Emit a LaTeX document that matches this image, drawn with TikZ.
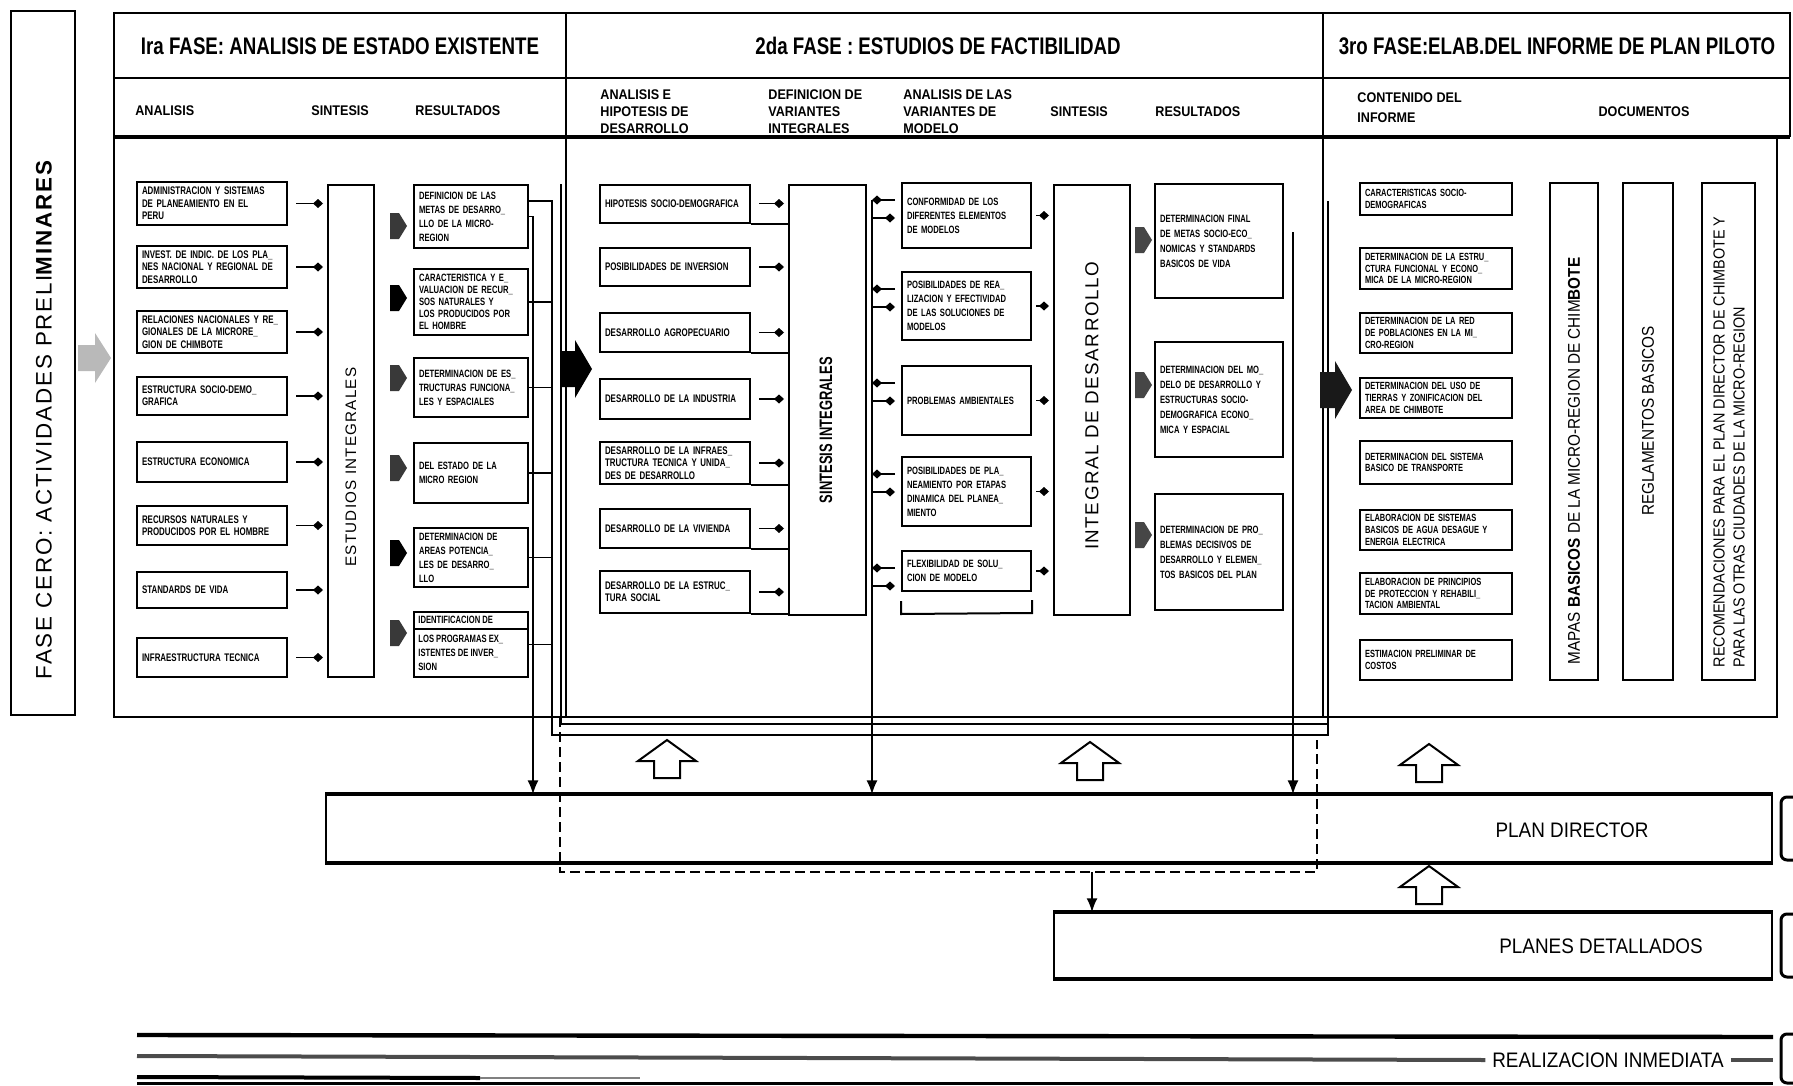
\documentclass[tikz,border=0pt]{standalone}
\usepackage{fontspec}
\setmainfont{Liberation Sans}
\newfontfamily\cond{Liberation Sans}[FakeStretch=0.78]
\newfontfamily\bxf{Liberation Sans}[FakeStretch=0.72]
\newfontfamily\semi{Liberation Sans}[FakeStretch=0.9]
\newfontfamily\spc{Liberation Sans}[LetterSpace=8]
\usetikzlibrary{arrows.meta,calc}
\begin{document}
\begin{tikzpicture}[x=0.5pt,y=-0.5pt,
  frame/.style={line width=1.3pt},
  bx/.style={draw, line width=1pt, inner sep=2.5pt, align=left, font=\bxf\bfseries\fontsize{5.5}{6.2}\selectfont},
  bxr/.style={bx, font=\bxf\bfseries\fontsize{5.3}{7}\selectfont},
  bxp/.style={bx, font=\bxf\bfseries\fontsize{5.2}{5.8}\selectfont},
  tall/.style={draw, line width=1pt, inner sep=0pt},
  rl/.style={rotate=90, font=\spc\fontsize{7.6}{10}\selectfont},
  hdr/.style={font=\cond\bfseries\fontsize{12}{13}\selectfont},
  sub/.style={font=\semi\bfseries\fontsize{7}{8.5}\selectfont, align=left, anchor=west, inner sep=0pt},
  dia/.style={line width=0.9pt, -{Diamond[length=5pt,width=4.5pt]}},
  arr/.style={line width=0.8pt, -{Latex[length=7pt,width=5.5pt]}},
  bus/.style={line width=0.8pt},
  big/.style={font=\semi\fontsize{10.5}{12}\selectfont},
  pics/pent/.style={code={\fill[#1] (0,-13)--(9,-13)--(17,0)--(9,13)--(0,13)--cycle;}},
  pics/bigarrow/.style={code={\fill[#1] (0,-18)--(15,-18)--(15,-29)--(32,0)--(15,29)--(15,18)--(0,18)--cycle;}},
  pics/uparrow/.style={code={\draw[line width=1pt, fill=white] (-13,0)--(13,0)--(13,-17)--(29,-17)--(0,-38)--(-29,-17)--(-13,-17)--cycle;}}
]
\useasboundingbox (0,0) rectangle (1793,1086);

% ---------- FASE CERO ----------
\node (fc) [tall, minimum width=32pt, minimum height=352pt] at (43,363) {};
\node (fcl) [rl, font=\spc\fontsize{11.2}{12}\selectfont] at (44,420) {FASE CERO: ACTIVIDADES PRELI{\bfseries MINARES}};
\fill[gray!55] (78,345)--(95,345)--(95,333)--(111,358)--(95,383)--(95,371)--(78,371)--cycle;

% ---------- frame ----------
\draw[frame] (1777,137) -- (1777,717) -- (114,717) -- (114,13) -- (1790,13) -- (1790,137);
\draw[frame] (114,78) -- (1790,78);
\draw[line width=1.8pt] (114,137) -- (1790,137);
\draw[frame] (566,13) -- (566,717);
\draw[frame] (1323,13) -- (1323,717);

% headers
\node (h1) [hdr] at (340,46) {Ira FASE: ANALISIS DE ESTADO EXISTENTE};
\node (h2) [hdr] at (938,46) {2da FASE : ESTUDIOS DE FACTIBILIDAD};
\node (h3) [hdr] at (1557,46) {3ro FASE:ELAB.DEL INFORME DE PLAN PILOTO};

\node (s1) [sub] at (135,111) {ANALISIS};
\node (s2) [sub] at (311,111) {SINTESIS};
\node (s3) [sub] at (415,111) {RESULTADOS};
\node (s4) [sub] at (600,112) {ANALISIS E\\HIPOTESIS DE\\DESARROLLO};
\node (s5) [sub] at (768,112) {DEFINICION DE\\VARIANTES\\INTEGRALES};
\node (s6) [sub] at (903,112) {ANALISIS DE LAS\\VARIANTES DE\\MODELO};
\node (s7) [sub] at (1050,112) {SINTESIS};
\node (s8) [sub] at (1155,112) {RESULTADOS};
\node (s9) [sub, font=\semi\bfseries\fontsize{7}{10}\selectfont] at (1357,108) {CONTENIDO DEL\\INFORME};
\node (s10) [sub, anchor=center] at (1644,112) {DOCUMENTOS};

% ---------- phase 1 ----------
\node (a1) [bx, text width=70pt, minimum height=19.5pt] at (212,203.5) {ADMINISTRACION Y SISTEMAS\\DE PLANEAMIENTO EN EL\\PERU};
\node (a2) [bx, text width=70pt, minimum height=20pt] at (212,267) {INVEST. DE INDIC. DE LOS PLA\_\\NES NACIONAL Y REGIONAL DE\\DESARROLLO};
\node (a3) [bx, text width=70pt, minimum height=20pt] at (212,332) {RELACIONES NACIONALES Y RE\_\\GIONALES DE LA MICRORE\_\\GION DE CHIMBOTE};
\node (a4) [bx, text width=70pt, minimum height=19pt] at (212,396) {ESTRUCTURA SOCIO-DEMO\_\\GRAFICA};
\node (a5) [bx, text width=70pt, minimum height=20pt] at (212,462) {ESTRUCTURA ECONOMICA};
\node (a6) [bx, text width=70pt, minimum height=19.5pt] at (212,525.5) {RECURSOS NATURALES Y\\PRODUCIDOS POR EL HOMBRE};
\node (a7) [bx, text width=70pt, minimum height=18pt] at (212,590) {STANDARDS DE VIDA};
\node (a8) [bx, text width=70pt, minimum height=19.5pt] at (212,657.5) {INFRAESTRUCTURA TECNICA};

\node (ei) [tall, minimum width=23pt, minimum height=246pt] at (351,431) {};
\node (eil) [rl] at (351,467) {ESTUDIOS INTEGRALES};
\foreach \i in {1,...,8}{\draw[dia, shorten <=4pt, shorten >=2pt] (a\i.east) -- (a\i.east -| ei.west);}

\node (r1) [bxr, text width=52pt, minimum height=31.5pt] at (471,216.5) {DEFINICION DE LAS\\METAS DE DESARRO\_\\LLO DE LA MICRO-\\REGION};
\node (r2) [bxr, text width=52pt, minimum height=30pt, font=\bxf\bfseries\fontsize{5.3}{6}\selectfont] at (471,302) {CARACTERISTICA Y E\_\\VALUACION DE RECUR\_\\SOS NATURALES Y\\LOS PRODUCIDOS POR\\EL HOMBRE};
\node (r3) [bxr, text width=52pt, minimum height=29.5pt] at (471,387.5) {DETERMINACION DE ES\_\\TRUCTURAS FUNCIONA\_\\LES Y ESPACIALES};
\node (r4) [bxr, text width=52pt, minimum height=30pt] at (471,473) {DEL ESTADO DE LA\\MICRO REGION};
\node (r5) [bxr, text width=52pt, minimum height=29.5pt] at (471,557.5) {DETERMINACION DE\\AREAS POTENCIA\_\\LES DE DESARRO\_\\LLO};
\node (r6) [tall, minimum width=57pt, minimum height=32.5pt] at (471,644.5) {};
\node (r6t) [anchor=north west, inner sep=2.5pt, align=left, font=\bxf\bfseries\fontsize{5.3}{7}\selectfont] at (r6.north west) {IDENTIFICACION DE\\[2.5pt]LOS PROGRAMAS EX\_\\ISTENTES DE INVER\_\\SION};
\draw[line width=0.8pt] (r6.west |- 0,629) -- (r6.east |- 0,629);

\pic at (390,226) {pent=gray!45!black};
\pic at (390,298) {pent=black};
\pic at (390,378) {pent=gray!45!black};
\pic at (390,468) {pent=gray!45!black};
\pic at (390,553) {pent=black};
\pic at (390,633) {pent=gray!45!black};

% phase 1 buses
\coordinate (ba) at (533,0);
\coordinate (bb) at (552,0);
\coordinate (bc) at (561,0);
\coordinate (br) at (1328,0);
\coordinate (bbot) at (0,735);
\coordinate (cbot) at (0,724);
\coordinate (r1b) at ($(r1.north east)+(0,17)$);
\draw[bus] (r1b) -- (r1b -| bb) -- (bb |- bbot) -- (br |- bbot) -- (br |- r1b);
\draw[bus] (bc |- r1.north) -- (bc |- cbot) -- (br |- cbot);
\foreach \i in {2,...,6}{\draw[bus] (r\i.east) -- (r\i.east -| bb);}

% ---------- phase 2 ----------
\node (b1) [bx, text width=70pt, minimum height=19pt] at (675,203.5) {HIPOTESIS SOCIO-DEMOGRAFICA};
\node (b2) [bx, text width=70pt, minimum height=19pt] at (675,267) {POSIBILIDADES DE INVERSION};
\node (b3) [bx, text width=70pt, minimum height=19.5pt] at (675,332.5) {DESARROLLO AGROPECUARIO};
\node (b4) [bx, text width=70pt, minimum height=20pt] at (675,399) {DESARROLLO DE LA INDUSTRIA};
\node (b5) [bx, text width=70pt, minimum height=19pt] at (675,463) {DESARROLLO DE LA INFRAES\_\\TRUCTURA TECNICA Y UNIDA\_\\DES DE DESARROLLO};
\node (b6) [bx, text width=70pt, minimum height=19.5pt] at (675,528.5) {DESARROLLO DE LA VIVIENDA};
\node (b7) [bx, text width=70pt, minimum height=21pt] at (675,592) {DESARROLLO DE LA ESTRUC\_\\TURA SOCIAL};

\node (si) [tall, minimum width=38.5pt, minimum height=215pt] at (827.5,400) {};
\node (sil) [rotate=90, font=\bxf\bfseries\fontsize{9}{10}\selectfont] at (826,430) {SINTESIS INTEGRALES};
\foreach \i in {1,...,7}{\draw[dia, shorten <=4pt, shorten >=2pt] (b\i.east) -- (b\i.east -| si.west);}
\foreach \i in {1,3,5,6,7}{\draw[line width=1pt] (b\i.south east) -- (b\i.south east -| si.west);}

\node (v1) [bxr, text width=59.5pt, minimum height=32.5pt] at (966.5,215.5) {CONFORMIDAD DE LOS\\DIFERENTES ELEMENTOS\\DE MODELOS};
\node (v2) [bxr, text width=59.5pt, minimum height=34pt] at (966.5,306) {POSIBILIDADES DE REA\_\\LIZACION Y EFECTIVIDAD\\DE LAS SOLUCIONES DE\\MODELOS};
\node (v3) [bxr, text width=59.5pt, minimum height=34.5pt] at (966.5,400.5) {PROBLEMAS AMBIENTALES};
\node (v4) [bxr, text width=59.5pt, minimum height=34.5pt] at (966.5,491.5) {POSIBILIDADES DE PLA\_\\NEAMIENTO POR ETAPAS\\DINAMICA DEL PLANEA\_\\MIENTO};
\node (v5) [bxr, text width=59.5pt, minimum height=20pt] at (966.5,571) {FLEXIBILIDAD DE SOLU\_\\CION DE MODELO};
\draw[line width=1pt] (v5.south west) ++(0,9) -- ++(0,13) -- (v5.south east |- 0,613) -- ++(0,-13);

\node (id) [tall, minimum width=38pt, minimum height=215pt] at (1092,400) {};
\node (idl) [rl, font=\spc\fontsize{9.4}{12}\selectfont] at (1092,406) {INTEGRAL DE DESARROLLO};
\foreach \i in {1,...,5}{\draw[dia, shorten <=2pt, shorten >=2pt] (v\i.east) -- (v\i.east -| id.west);}

\coordinate (bv) at (872,0);
\foreach \i in {1,...,5}{
  \coordinate (vu\i) at ($(v\i.north west)+(0,18)$);
  \coordinate (vl\i) at ($(v\i.north west)+(0,36)$);
  \draw[dia, shorten <=3pt] (vu\i) -- (vu\i -| bv);
  \draw[dia, shorten >=3pt] (vl\i -| bv) -- (vl\i);
}

\node (t1) [bxr, text width=59pt, minimum height=57pt, font=\bxf\bfseries\fontsize{5.3}{7.5}\selectfont] at (1219,241) {DETERMINACION FINAL\\DE METAS SOCIO-ECO\_\\NOMICAS Y STANDARDS\\BASICOS DE VIDA};
\node (t2) [bxr, text width=59pt, minimum height=57.5pt, font=\bxf\bfseries\fontsize{5.3}{7.5}\selectfont] at (1219,399.5) {DETERMINACION DEL MO\_\\DELO DE DESARROLLO Y\\ESTRUCTURAS SOCIO-\\DEMOGRAFICA ECONO\_\\MICA Y ESPACIAL};
\node (t3) [bxr, text width=59pt, minimum height=58pt, font=\bxf\bfseries\fontsize{5.3}{7.5}\selectfont] at (1219,552) {DETERMINACION DE PRO\_\\BLEMAS DECISIVOS DE\\DESARROLLO Y ELEMEN\_\\TOS BASICOS DEL PLAN};
\pic at (1135,240) {pent=gray!55!black};
\pic at (1135,385) {pent=gray!55!black};
\pic at (1135,535) {pent=gray!55!black};

% ---------- phase 3 ----------
\node (p1) [bxp, text width=71pt, minimum height=16pt] at (1436,199) {CARACTERISTICAS SOCIO-\\DEMOGRAFICAS};
\node (p2) [bxp, text width=71pt, minimum height=20.5pt] at (1436,268.5) {DETERMINACION DE LA ESTRU\_\\CTURA FUNCIONAL Y ECONO\_\\MICA DE LA MICRO-REGION};
\node (p3) [bxp, text width=71pt, minimum height=20pt] at (1436,333) {DETERMINACION DE LA RED\\DE POBLACIONES EN LA MI\_\\CRO-REGION};
\node (p4) [bxp, text width=71pt, minimum height=20pt] at (1436,398) {DETERMINACION DEL USO DE\\TIERRAS Y ZONIFICACION DEL\\AREA DE CHIMBOTE};
\node (p5) [bxp, text width=71pt, minimum height=21.5pt] at (1436,462.5) {DETERMINACION DEL SISTEMA\\BASICO DE TRANSPORTE};
\node (p6) [bxp, text width=71pt, minimum height=20pt] at (1436,530) {ELABORACION DE SISTEMAS\\BASICOS DE AGUA DESAGUE Y\\ENERGIA ELECTRICA};
\node (p7) [bxp, text width=71pt, minimum height=20.5pt] at (1436,593.5) {ELABORACION DE PRINCIPIOS\\DE PROTECCION Y REHABILI\_\\TACION AMBIENTAL};
\node (p8) [bxp, text width=71pt, minimum height=20pt] at (1436,660) {ESTIMACION PRELIMINAR DE\\COSTOS};

\node (d1) [tall, minimum width=24pt, minimum height=248.5pt] at (1574,431.5) {};
\node (d1l) [rotate=90, font=\semi\fontsize{8.5}{10}\selectfont] at (1574,461) {MAPAS {\bfseries BASICOS} DE LA MICRO-REGION DE CHIM{\bfseries BOTE}};
\node (d2) [tall, minimum width=25pt, minimum height=248.5pt] at (1648,431.5) {};
\node (d2l) [rotate=90, font=\semi\fontsize{8.5}{10}\selectfont] at (1648,421) {REGLAMENTOS BASICOS};
\node (d3) [tall, minimum width=26.5pt, minimum height=248.5pt] at (1728.5,431.5) {};
\node (d3l) [rotate=90, align=left, font=\semi\fontsize{8}{10}\selectfont] at (1729,442) {RECOMENDACIONES PARA EL PLAN DIRECTOR DE CHIMBOTE Y\\PARA LAS OTRAS CIUDADES DE LA MICRO-REGION};

% big arrows between phases
\pic at (560,369) {bigarrow=black};
\pic at (1320,390) {bigarrow=gray!20!black};

% ---------- bottom ----------
\node (pd) [draw, line width=0.7pt, minimum width=723pt, minimum height=33.5pt, inner sep=0pt] at (1049,828.5) {};
\draw[line width=2pt] (pd.north west) -- (pd.north east);
\draw[line width=2pt] (pd.south west) -- (pd.south east);
\node (pdl) [big] at (1572,830) {PLAN DIRECTOR};
\node (pdt) [draw, line width=0.7pt, minimum width=359pt, minimum height=32.5pt, inner sep=0pt] at (1413,945.5) {};
\draw[line width=2pt] (pdt.north west) -- (pdt.north east);
\draw[line width=2pt] (pdt.south west) -- (pdt.south east);
\node (pdtl) [big] at (1601,946) {PLANES DETALLADOS};

% buses into plan director
\draw[arr] (r1.east) -- (r1.east -| ba) -- (ba |- pd.north);
\draw[arr] (vu1 -| bv) -- (bv |- pd.north);
\coordinate (bs) at (1293,232);
\draw[arr] (bs) -- (bs |- pd.north);

% dashed frame and arrow to detailed plans
\draw[line width=1.1pt, dash pattern=on 5pt off 2.5pt] (560,717) -- (560,872) -- (1317,872) -- (1317,740);
\coordinate (dk) at (1092,872);
\draw[arr, line width=1pt] (dk) -- (dk |- pdt.north);

% up arrows
\pic at (667,778) {uparrow};
\pic at (1090,780) {uparrow};
\pic at (1429,782) {uparrow};
\pic at (1429,904) {uparrow};

% bottom lines
\node (ri) [big] at (1608,1060) {REALIZACION INMEDIATA};
\draw[line width=2.2pt] (137,1035) -- (1773,1037);
\draw[line width=2pt, gray!60!black] (137,1056) -- (ri.west);
\draw[line width=2pt, gray!60!black] (ri.east) -- (1773,1060);
\draw[line width=2pt] (137,1077) -- (480,1078);
\draw[line width=0.8pt, gray] (480,1078) -- (640,1078);
\draw[line width=1.5pt] (137,1083) -- (1773,1083);

% right brackets
\draw[line width=1.5pt, rounded corners=3pt] (1793,797) -- (1781,797) -- (1781,860) -- (1793,860);
\draw[line width=1.5pt, rounded corners=3pt] (1793,914) -- (1781,914) -- (1781,977) -- (1793,977);
\draw[line width=1.5pt, rounded corners=3pt] (1793,1034) -- (1781,1034) -- (1781,1083) -- (1793,1083);
\end{tikzpicture}
\end{document}
